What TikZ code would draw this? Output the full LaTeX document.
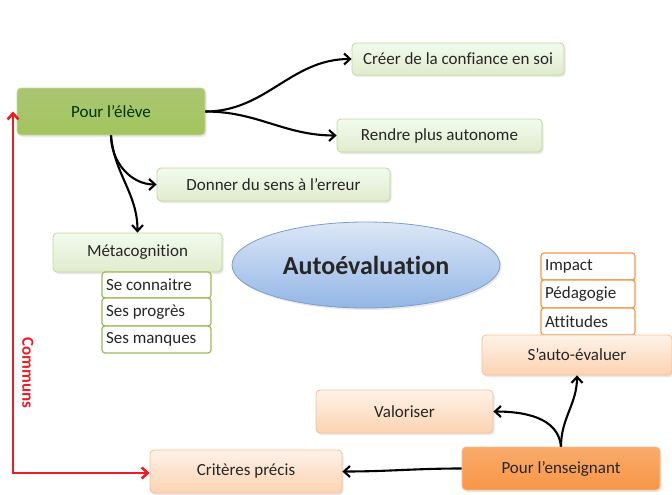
\documentclass[tikz,border=0pt]{standalone}
\usepackage{fontspec}
\setmainfont[Ligatures=NoCommon]{Carlito}
\usetikzlibrary{arrows.meta,shapes.geometric,shadows}
\definecolor{vertfonce}{HTML}{9BBB59}
\definecolor{vertbord}{HTML}{C3D69B}
\definecolor{orangefonce}{HTML}{F79646}
\definecolor{orangebord}{HTML}{F9BE93}
\definecolor{bleuhaut}{HTML}{DCE7F6}
\definecolor{bleubas}{HTML}{93B6E6}
\definecolor{bleubord}{HTML}{7F9DC9}
\definecolor{rougefleche}{HTML}{EE1C25}

\begin{document}
\begin{tikzpicture}[>={Straight Barb[length=6pt,width=11pt]},x=1pt,y=-1pt,
		boite/.style={rounded corners=4pt,line width=0.8pt,font=\fontsize{17}{20}\selectfont,text=black!85,drop shadow={opacity=0.18,shadow xshift=1.5pt,shadow yshift=-2pt}},
		vert/.style={boite,draw=vertbord,top color=green!4!white!95!vertfonce,bottom color=vertfonce!30},
		orange/.style={boite,draw=orangebord,top color=orangefonce!12,bottom color=orangefonce!42},
		sousvert/.style={rounded corners=3pt,draw=vertfonce,line width=1.2pt,fill=white,font=\fontsize{17}{20}\selectfont,text=black!85,minimum width=109pt,text width=101pt,inner xsep=3pt,align=flush left},
		sousorange/.style={sousvert,draw=orangefonce,minimum width=94pt,text width=86pt},
		lien/.style={->,line width=2.1pt,black}]
		\useasboundingbox (0,0) rectangle (672,495);
		\node[boite,draw=vertbord,top color=vertfonce!85,bottom color=vertfonce!105!black,minimum width=188pt,minimum height=47pt,text=black!80!green] (eleve) at (111,111.5) {Pour l’élève};
		\node[vert,minimum width=212pt,minimum height=32pt] (confiance) at (458,59) {Créer de la confiance en soi};
		\node[vert,minimum width=205pt,minimum height=33pt] (autonome) at (439.5,135.5) {Rendre plus autonome};
		\node[vert,minimum width=233pt,minimum height=33pt] (sens) at (273.5,184.5) {Donner du sens à l’erreur};
		\node[vert,minimum width=169pt,minimum height=39pt] (meta) at (137.5,252.5) {Métacognition};
		\node[sousvert,minimum height=26pt] (connaitre) at (156.5,285) {Se connaitre};
		\node[sousvert,minimum height=28pt] (progres) at (156.5,312) {Ses progrès};
		\node[sousvert,minimum height=27pt] (manques) at (156.5,339.5) {Ses manques};
		\node[ellipse,draw=bleubord,line width=0.8pt,top color=bleuhaut,bottom color=bleubas,minimum width=268pt,minimum height=86pt,font=\fontsize{26}{30}\selectfont\bfseries,text=black!85,drop shadow={opacity=0.18,shadow xshift=1.5pt,shadow yshift=-2pt}] (auto) at (366,265) {Autoévaluation};
		\node[sousorange,minimum height=27pt] (impact) at (588,266.5) {Impact};
		\node[sousorange,minimum height=28pt] (pedagogie) at (588,294) {Pédagogie};
		\node[sousorange,minimum height=27pt] (attitudes) at (588,321.5) {Attitudes};
		\node[orange,minimum width=190pt,minimum height=40pt] (autoeval) at (577,355) {S’auto-évaluer};
		\node[orange,minimum width=177pt,minimum height=43pt] (valoriser) at (404.5,411.5) {Valoriser};
		\node[boite,draw=orangebord,top color=orangefonce!80,bottom color=orangefonce,minimum width=198pt,minimum height=43pt] (enseignant) at (561,468.5) {Pour l’enseignant};
		\node[orange,minimum width=192pt,minimum height=43pt] (criteres) at (246,471.5) {Critères précis};
		\draw[lien] (eleve.east) to[out=0,in=180] (confiance.west);
		\draw[lien] (eleve.east) to[out=0,in=180] (autonome.west);
		\draw[lien] (eleve.south) to[out=-90,in=180] (sens.west);
		\draw[lien] (eleve.south) to[out=-85,in=90] (meta.north);
		\draw[lien] (enseignant.north) to[out=95,in=0] (valoriser.east);
		\draw[lien] (enseignant.north) to[out=90,in=-90] (autoeval.south);
		\draw[lien] (enseignant.west) to[out=180,in=0] (criteres.east);
		\coordinate (coin) at (13,473);
		\draw[<->,rougefleche,line width=2.6pt] (eleve.west -| coin) -- (coin) -- (criteres.west |- coin);
		\node[rotate=-90,text=rougefleche,font=\fontsize{17}{20}\selectfont\bfseries] (communs) at (28,373) {Communs};
		\end{tikzpicture}
\end{document}
